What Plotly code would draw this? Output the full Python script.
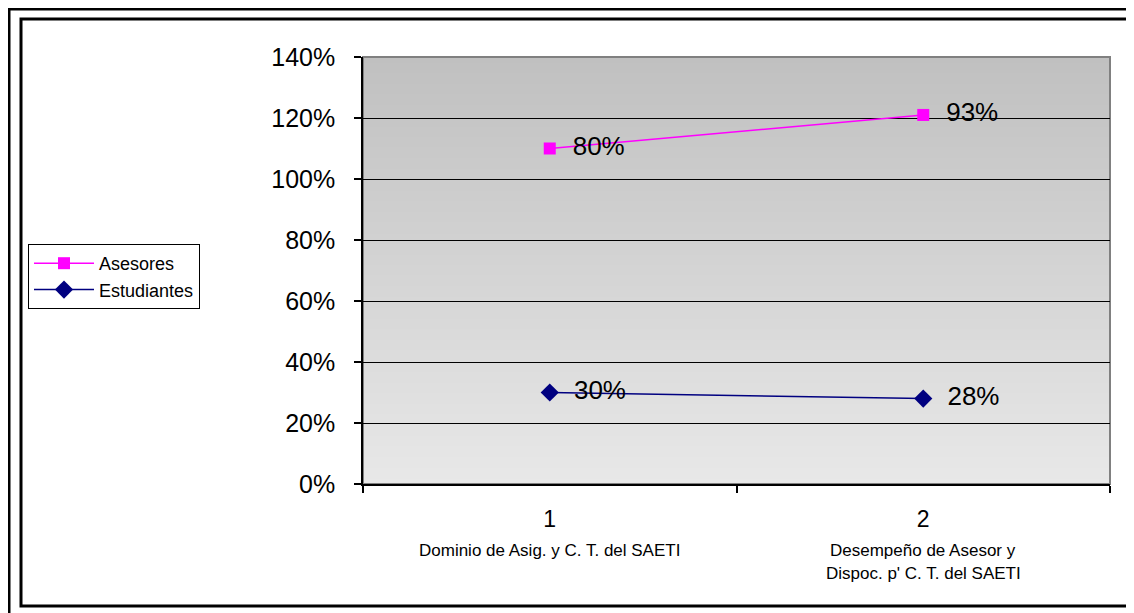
import plotly.graph_objects as go

# ── Data ─────────────────────────────────────────────────────────────────────
categories = ["1", "2"]
cat_names = ["Dominio de Asig. y C. T. del SAETI",
             "Desempeño de Asesor y<br>Dispoc. p' C. T. del SAETI"]
estudiantes = [0.30, 0.28]
asesores = [0.80, 0.93]

# ── Geometry helpers (screen pixels -> paper) ────────────────────────────────
# the page body has an 8px margin, so the figure starts at (8, 8) on screen
OFF = 8
W, H = 1134 - OFF, 613 - OFF
L, R, T, B = 363 - OFF, 1110 - OFF, 57 - OFF, 484 - OFF


def px(x):
    return (x - OFF - L) / (R - L)


def py(y):
    return (B - (y - OFF)) / (B - T)


FONT = "Liberation Sans, Arial, sans-serif"

fig = go.Figure()

# stacked lines (Excel "stacked line" chart) – labels show own values
fig.add_trace(go.Scatter(
    x=categories, y=estudiantes, name="Estudiantes",
    stackgroup="s", fill="none", mode="lines+markers+text",
    line=dict(color="#000080", width=1.5),
    marker=dict(symbol="diamond", size=14, color="#000080"),
    text=["  " + f"{v:.0%}" for v in estudiantes],
    textposition="middle right",
    textfont=dict(family=FONT, size=26, color="black"),
    cliponaxis=False,
))
fig.add_trace(go.Scatter(
    x=categories, y=asesores, name="Asesores",
    stackgroup="s", fill="none", mode="lines+markers+text",
    line=dict(color="#FF00FF", width=1.5),
    marker=dict(symbol="square", size=12, color="#FF00FF"),
    text=["  " + f"{v:.0%}" for v in asesores],
    textposition="middle right",
    textfont=dict(family=FONT, size=26, color="black"),
    cliponaxis=False,
))

# ── Gradient plot background ─────────────────────────────────────────────────
shapes = []
n = 80
top, bot = (192, 192, 192), (232, 232, 232)
for i in range(n):
    t = i / (n - 1)
    c = tuple(round(bot[k] + (top[k] - bot[k]) * t) for k in range(3))
    shapes.append(dict(
        type="rect", xref="paper", yref="paper", layer="below",
        x0=0, x1=1, y0=i / n, y1=(i + 1) / n + 0.002,
        line=dict(width=0), fillcolor=f"rgb{c}",
    ))
# gray plot border (top/right)
shapes.append(dict(type="rect", xref="paper", yref="paper", layer="below",
                   x0=0, x1=1, y0=0, y1=1,
                   line=dict(color="#808080", width=2)))
# chart frames
shapes.append(dict(type="rect", xref="paper", yref="paper",
                   x0=px(9), x1=px(1145), y0=py(9), y1=py(625),
                   line=dict(color="black", width=3)))
shapes.append(dict(type="rect", xref="paper", yref="paper",
                   x0=px(21), x1=px(1130), y0=py(19), y1=py(606),
                   line=dict(color="black", width=3)))

# ── Category descriptions under tick labels ──────────────────────────────────
annotations = []
for i, name in enumerate(cat_names):
    for j, line in enumerate(name.split("<br>")):
        annotations.append(dict(
            x=i, xref="x", y=py(550 + 23 * j), yref="paper",
            text=line, showarrow=False, yanchor="middle",
            font=dict(family=FONT, size=17, color="black"),
        ))

fig.update_layout(
    width=W, height=H,
    margin=dict(l=L, r=W - R, t=T, b=H - B),
    paper_bgcolor="white",
    plot_bgcolor="rgba(0,0,0,0)",
    font=dict(family=FONT, color="black"),
    shapes=shapes,
    annotations=annotations,
    showlegend=True,
    legend=dict(
        x=px(28), y=py(244), xanchor="left", yanchor="top",
        traceorder="reversed",
        bgcolor="white", bordercolor="black", borderwidth=1,
        font=dict(family=FONT, size=18, color="black"),
        tracegroupgap=0, itemwidth=60,
    ),
)

fig.update_xaxes(
    type="category", tickson="boundaries", range=[-0.5, 1.5],
    ticks="outside", ticklen=7, tickcolor="black", tickwidth=1.5,
    showline=True, linecolor="black", linewidth=1.5,
    showgrid=False, zeroline=False,
    tickfont=dict(family=FONT, size=23, color="black"),
    ticklabelstandoff=14,
)
fig.update_yaxes(
    range=[0, 1.4], dtick=0.2, tickformat=".0%",
    ticks="outside", ticklen=7, tickcolor="black", tickwidth=1.5,
    showline=True, linecolor="black", linewidth=1.5,
    showgrid=True, gridcolor="black", gridwidth=1.2,
    zeroline=False,
    tickfont=dict(family=FONT, size=25, color="black"),
    ticklabelstandoff=14,
)

fig.write_html("out.html")
